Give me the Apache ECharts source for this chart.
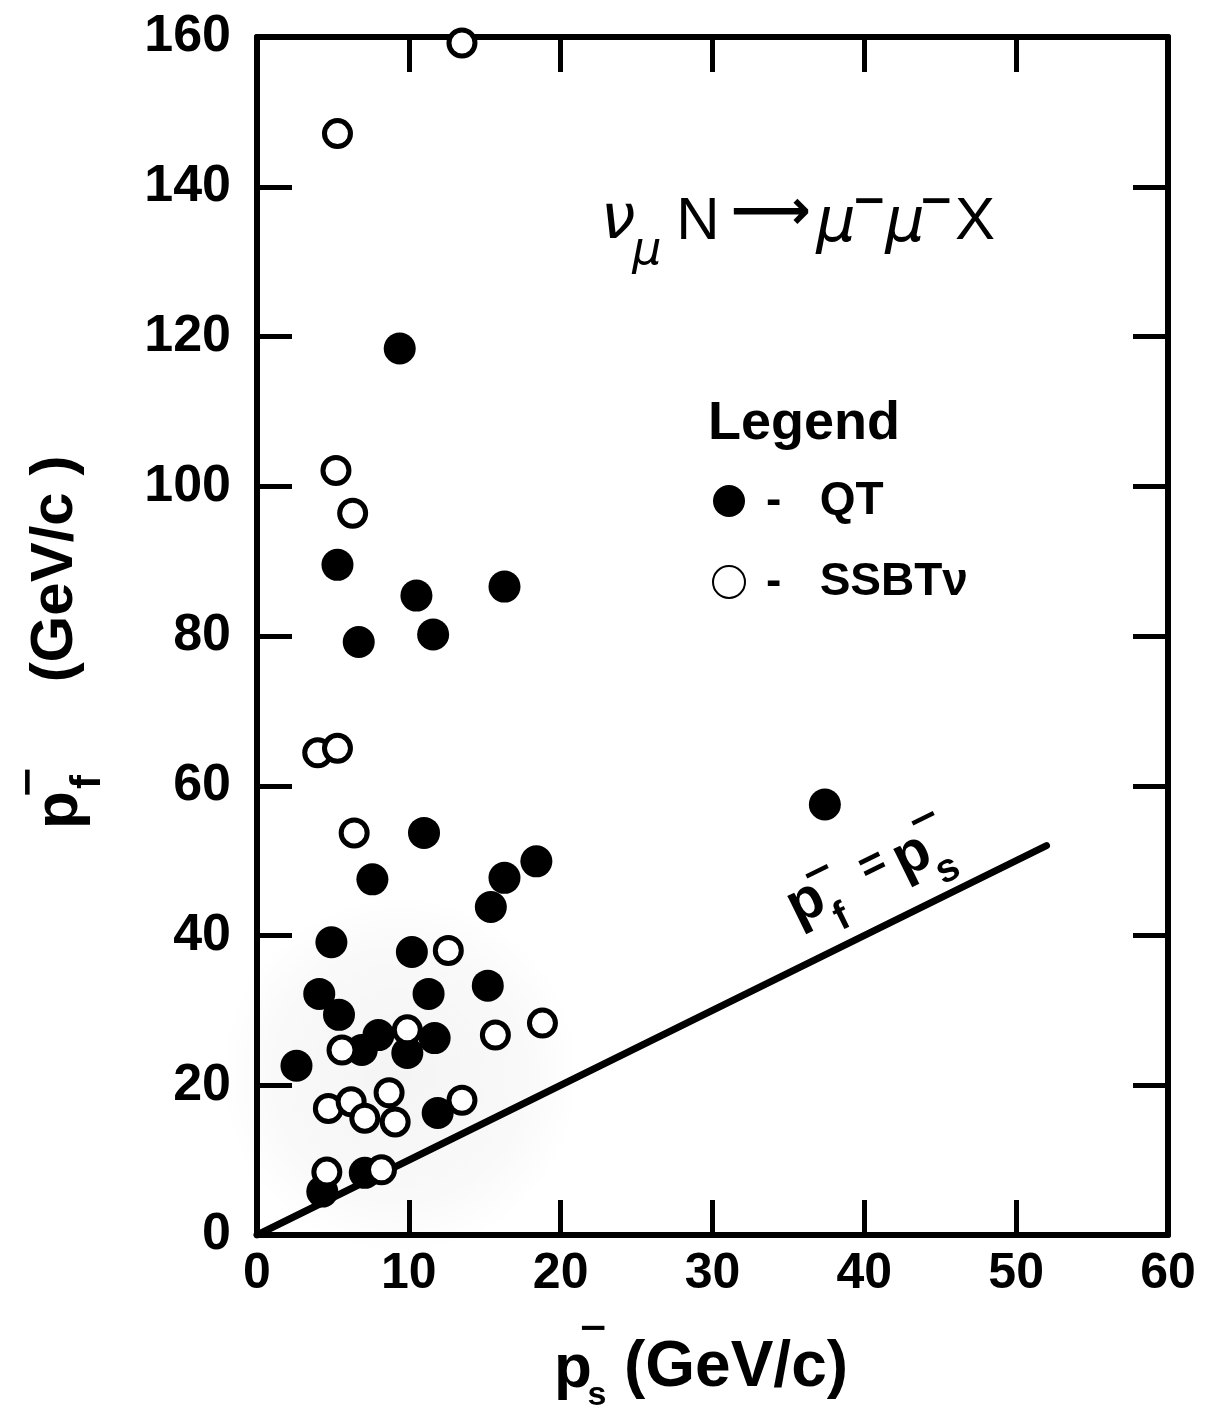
<!DOCTYPE html>
<html>
<head>
<meta charset="utf-8">
<title>p_f vs p_s — νμ N → μ⁻μ⁻ X</title>
<script src="https://cdn.jsdelivr.net/npm/echarts@6/dist/echarts.min.js"></script>
<style>
  html, body { margin: 0; padding: 0; background: #fff; }
  #chart { width: 1211px; height: 1409px; }
</style>
</head>
<body>
<div id="chart"></div>
<script>
// Axis ranges and tick spacing (GeV/c)
const psRange = [0, 60];
const psStep = 10;
const pfRange = [0, 160];
const pfStep = 20;

// QT events (filled circles): slow-muon momentum p_s and fast-muon momentum p_f
const qtPs = [9.4, 5.3, 10.5, 6.7, 11.6, 16.3, 37.4, 11.0, 7.6, 18.4, 16.3, 15.4, 4.9,
              10.2, 11.3, 15.2, 4.1, 5.4, 8.0, 6.9, 9.9, 11.7, 2.6, 11.9, 7.1, 4.3];
const qtPf = [118.4, 89.5, 85.4, 79.2, 80.2, 86.6, 57.5, 53.7, 47.5, 49.9, 47.7, 43.8, 39.1,
              37.8, 32.2, 33.3, 32.2, 29.4, 26.7, 24.7, 24.3, 26.3, 22.6, 16.3, 8.3, 5.8];

// SSBTν events (open circles)
const ssbtPs = [13.5, 5.3, 5.2, 6.3, 4.0, 5.3, 6.4, 12.6, 18.8, 15.7, 9.9, 5.6, 4.7, 6.2,
                7.1, 8.7, 9.1, 13.5, 4.6, 8.2];
const ssbtPf = [159.2, 147.1, 102.1, 96.4, 64.4, 65.0, 53.7, 38.0, 28.3, 26.7, 27.4, 24.7,
                16.9, 17.8, 15.6, 19.0, 15.1, 18.0, 8.4, 8.7];

// Reference line p_f = p_s
const diagPs = [0, 52];

const seriesNames = ['QT', 'SSBTν'];

const zip = (xs, ys) => xs.map((x, i) => [x, ys[i]]);

const FONT = 'Liberation Sans';
const INK = '#000';

// Text helper for the free-standing annotations
function txt(x, y, s, size, opts) {
  opts = opts || {};
  return {
    type: 'text',
    x: x, y: y,
    rotation: opts.rotation || 0,
    z: 100,
    style: {
      text: s,
      fontFamily: opts.family || FONT,
      fontSize: size,
      fontWeight: opts.weight || 'bold',
      fontStyle: opts.style || 'normal',
      fill: INK,
      align: 'center',
      verticalAlign: 'middle'
    }
  };
}

const ROT = Math.PI / 2;
const LINE_ROT = 0.456;

const chart = echarts.init(document.getElementById('chart'), null, { renderer: 'canvas' });

const frameAxis = {
  axisLine: { show: true, onZero: false, lineStyle: { color: INK, width: 6 } },
  axisTick: { show: true, inside: true, length: 35, lineStyle: { color: INK, width: 5 } },
  splitLine: { show: false }
};

chart.setOption({
  backgroundColor: '#fff',
  animation: false,
  grid: { left: 257, right: 43, top: 37, bottom: 174, containLabel: false },
  xAxis: [
    Object.assign({
      type: 'value', position: 'bottom',
      min: psRange[0], max: psRange[1], interval: psStep,
      axisLabel: { color: INK, fontFamily: FONT, fontWeight: 'bold', fontSize: 50, margin: 14 }
    }, frameAxis),
    Object.assign({
      type: 'value', position: 'top',
      min: psRange[0], max: psRange[1], interval: psStep,
      axisLabel: { show: false }
    }, frameAxis)
  ],
  yAxis: [
    Object.assign({
      type: 'value', position: 'left',
      min: pfRange[0], max: pfRange[1], interval: pfStep,
      axisLabel: { color: INK, fontFamily: FONT, fontWeight: 'bold', fontSize: 52, margin: 26 }
    }, frameAxis),
    Object.assign({
      type: 'value', position: 'right',
      min: pfRange[0], max: pfRange[1], interval: pfStep,
      axisLabel: { show: false }
    }, frameAxis)
  ],
  legend: {
    orient: 'vertical',
    left: 707, top: 473,
    itemWidth: 32, itemHeight: 32, itemGap: 35,
    selectedMode: false,
    data: seriesNames,
    formatter: name => '-   ' + name,
    textStyle: {
      color: INK, fontFamily: FONT, fontWeight: 'bold', fontSize: 46,
      lineHeight: 32, padding: [0, 0, 0, 16]
    }
  },
  graphic: [
    // faint stippled shading behind the low-momentum cluster
    {
      type: 'circle', z: -10, silent: true,
      shape: { cx: 400, cy: 1075, r: 180 },
      style: {
        fill: {
          type: 'radial', x: 0.5, y: 0.5, r: 0.5,
          colorStops: [
            { offset: 0, color: 'rgba(0,0,0,0.045)' },
            { offset: 0.7, color: 'rgba(0,0,0,0.025)' },
            { offset: 1, color: 'rgba(0,0,0,0)' }
          ]
        }
      }
    },
    // reaction: ν_μ N → μ⁻ μ⁻ X
    txt(618, 222, 'ν', 62, { family: 'DejaVu Sans', style: 'italic', weight: 'normal' }),
    txt(647, 252, 'μ', 46, { family: 'DejaVu Sans', style: 'italic', weight: 'normal' }),
    txt(698, 222, 'N', 60, { weight: 'normal' }),
    txt(771, 214, '⟶', 56, { family: 'DejaVu Sans', weight: 'bold' }),
    txt(836, 225, 'μ', 62, { family: 'DejaVu Sans', style: 'italic', weight: 'normal' }),
    txt(869, 203, '−', 42, { family: 'DejaVu Sans', weight: 'bold' }),
    txt(905, 225, 'μ', 62, { family: 'DejaVu Sans', style: 'italic', weight: 'normal' }),
    txt(936, 203, '−', 42, { family: 'DejaVu Sans', weight: 'bold' }),
    txt(975, 222, 'X', 60, { weight: 'normal' }),
    // legend heading
    txt(804, 424, 'Legend', 54),
    // y-axis title
    txt(55, 569, '(GeV/c )', 60, { rotation: ROT }),
    txt(60, 810, 'p', 62, { rotation: ROT }),
    txt(30, 782, '−', 40, { rotation: ROT, family: 'DejaVu Sans' }),
    txt(88, 782, 'f', 42, { rotation: ROT }),
    // x-axis title
    txt(736, 1368, '(GeV/c)', 64),
    txt(573, 1370, 'p', 62),
    txt(593, 1330, '−', 36, { family: 'DejaVu Sans' }),
    txt(597, 1396, 's', 34),
    // label on the diagonal: p_f = p_s
    txt(806, 903, 'p', 58, { rotation: LINE_ROT }),
    txt(818, 873, '−', 38, { rotation: LINE_ROT, family: 'DejaVu Sans' }),
    txt(842, 918, 'f', 40, { rotation: LINE_ROT }),
    txt(873, 866, '=', 44, { rotation: LINE_ROT }),
    txt(912, 856, 'p', 58, { rotation: LINE_ROT }),
    txt(924, 820, '−', 38, { rotation: LINE_ROT, family: 'DejaVu Sans' }),
    txt(948, 870, 's', 40, { rotation: LINE_ROT })
  ],
  series: [
    {
      name: 'p_f = p_s',
      type: 'line',
      data: diagPs.map(v => [v, v]),
      showSymbol: false,
      symbol: 'none',
      silent: true,
      z: 2,
      lineStyle: { color: INK, width: 7, cap: 'round' }
    },
    {
      name: seriesNames[0],
      type: 'scatter',
      data: zip(qtPs, qtPf),
      symbol: 'circle',
      symbolSize: 32,
      z: 3,
      itemStyle: { color: INK, opacity: 1 }
    },
    {
      name: seriesNames[1],
      type: 'scatter',
      data: zip(ssbtPs, ssbtPf),
      symbol: 'circle',
      symbolSize: 26,
      z: 4,
      itemStyle: { color: '#fff', borderColor: INK, borderWidth: 5, opacity: 1 }
    }
  ]
});
</script>
</body>
</html>
